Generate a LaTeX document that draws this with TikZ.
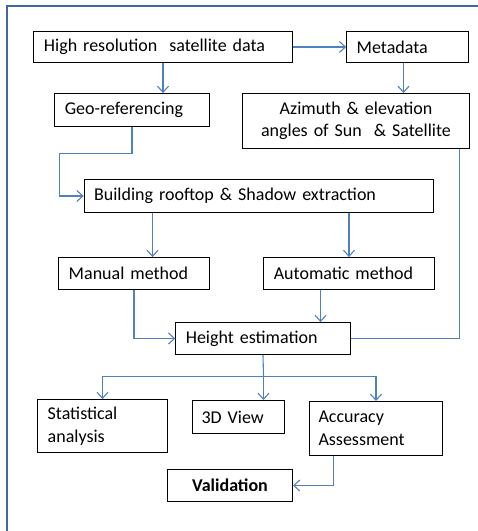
\documentclass[tikz,border=0pt]{standalone}
\usepackage{fontspec}
\setmainfont{Carlito}
\usetikzlibrary{arrows.meta,calc}
\definecolor{flowblue}{RGB}{79,129,189}
\definecolor{framblue}{RGB}{65,105,160}
\tikzset{
  stepbox/.style={draw=black, line width=1bp, inner ysep=0pt, inner xsep=10bp,
    align=left, font=\fontsize{18bp}{22.5bp}\selectfont},
  flow/.style={draw=flowblue, line width=1.1bp},
  arr/.style={flow, -{Straight Barb[length=6bp,width=11bp,line width=1.1bp]}},
}
\newcommand{\boxat}[6]{% name, x1, y1, x2, y2, text
  \node[stepbox, minimum height={#5-#3}, text width={#4-#2-20},
        anchor=center] (#1) at ({(#2+#4)/2},{(#3+#5)/2}) {#6};}
\begin{document}
\begin{tikzpicture}[x=1bp,y=-1bp]
\useasboundingbox (0,0) rectangle (478,531);
\clip (0,0) rectangle (478,531);
% outer frame
\draw[framblue, line width=2.6bp] (7,560) -- (7,6) -- (520,6);

\begin{scope}[shift={(0.5,0.5)}]
% boxes
\boxat{hr}{33}{31}{292}{62}{High resolution\ \ satellite data}
\boxat{meta}{346}{31}{468}{62}{Metadata}
\boxat{geo}{54}{93}{209}{126}{Geo-referencing}
\node[stepbox, align=center, minimum height=55bp, text width=207bp, inner xsep=10bp]
  (az) at (355.5,120.5) {Azimuth \& elevation\\angles of Sun\ \ \& Satellite};
\boxat{bld}{83}{179}{434}{212}{Building rooftop \& Shadow extraction}
\boxat{man}{58}{257}{209}{289}{Manual method}
\boxat{auto}{263}{257}{434}{289}{Automatic method}
\boxat{ht}{175}{322}{350}{354}{Height estimation}
\boxat{stat}{37}{399}{167}{452}{Statistical\\analysis}
\node[stepbox, minimum height=33bp, text width=74bp, inner xsep=9bp]
  (v3d) at (238,416.5) {3D View};
\node[stepbox, minimum height=54bp, text width=115bp, inner xsep=9bp]
  (acc) at (375.5,428) {Accuracy\\Assessment};
\node[stepbox, align=center, minimum height=32bp, text width=105bp,
  font=\fontsize{18bp}{22.5bp}\selectfont\bfseries] (val) at (229.5,485) {Validation};

% helper coordinates
\coordinate (g1) at (59,153);
\coordinate (c1) at (152,0);
\coordinate (c2) at (320,0);
\coordinate (c3) at (459,0);
\coordinate (c4) at (333,0);
\coordinate (c5) at (403,0);
\coordinate (sp) at (263,376);

% connectors
\draw[arr] (hr.east) -- (meta.west);
\draw[arr] (hr.south) -- (hr.south |- geo.north);
\draw[arr] (meta.south -| c5) -- (az.north -| c5);
\draw[arr] (geo.south) |- (g1) |- (bld.west);
\draw[arr] (bld.south -| c1) -- (man.north -| c1);
\draw[arr] (bld.south -| auto.north) -- (auto.north);
\draw[arr] (man.south) |- (ht.west);
\draw[arr] (auto.south -| c2) -- (ht.north -| c2);
\draw[flow] (az.south -| c3) |- (ht.east);
\draw[flow] (ht.south) -- (sp);
\draw[arr] (sp) -| (stat.north);
\draw[arr] (sp) -- (sp |- v3d.north);
\draw[arr] (sp) -| (acc.north);
\draw[arr] (acc.south -| c4) |- (val.east);
\end{scope}
\end{tikzpicture}
\end{document}
